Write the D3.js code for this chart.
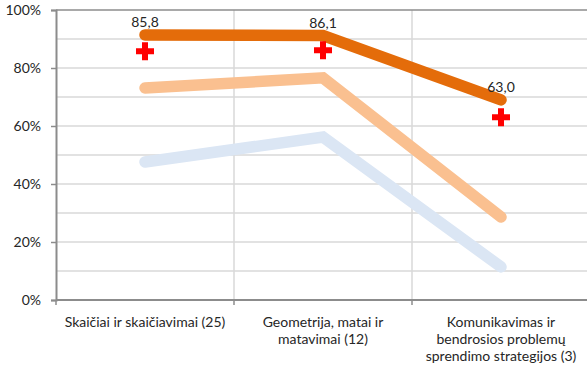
<!DOCTYPE html>
<html>
<head>
<meta charset="utf-8">
<script src="https://cdn.jsdelivr.net/npm/d3@7"></script>
<style>
  html, body { margin: 0; padding: 0; background: #fff; }
  svg { display: block; }
  text { font-family: Lato, "Open Sans", sans-serif; fill: #262626; }
</style>
</head>
<body>
<svg id="chart" width="587" height="367"></svg>
<script>
// Categories (multi-line axis labels)
const categories = [
  ["Skaičiai ir skaičiavimai (25)"],
  ["Geometrija, matai ir", "matavimai (12)"],
  ["Komunikavimas ir", "bendrosios problemų", "sprendimo strategijos (3)"]
];
const categoryKeys = ["skaiciai", "geometrija", "komunikavimas"];

// Series values, %
const seriesHigh = [91.4, 91.2, 69.0];
const seriesMid = [73.1, 76.6, 28.6];
const seriesLow = [47.6, 56.2, 11.4];
// Marked results with value labels
const markedValues = [85.8, 86.1, 63.0];
const markedLabels = ["85,8", "86,1", "63,0"];

const yTicks = [0, 20, 40, 60, 80, 100];
const yGrid = d3.range(0, 101, 10);

const svg = d3.select("#chart");
const plot = { left: 56, right: 590, top: 10, bottom: 300 };
const fontSize = 14;

const x = d3.scaleBand().domain(categoryKeys).range([plot.left, plot.right]);
const y = d3.scaleLinear().domain([0, 100]).range([plot.bottom, plot.top]);
const cx = k => x(k) + x.bandwidth() / 2;

// Horizontal gridlines
svg.append("g").selectAll("line").data(yGrid.filter(v => v > 0 && v < 100)).join("line")
  .attr("x1", plot.left).attr("x2", plot.right)
  .attr("y1", d => y(d)).attr("y2", d => y(d))
  .attr("stroke", "#d9d9d9").attr("stroke-width", 1.5);

// Vertical gridlines between categories
svg.append("g").selectAll("line").data(categoryKeys.slice(1)).join("line")
  .attr("x1", d => x(d)).attr("x2", d => x(d))
  .attr("y1", plot.top).attr("y2", plot.bottom)
  .attr("stroke", "#d9d9d9").attr("stroke-width", 1.5);

// Top border
svg.append("line").attr("x1", plot.left).attr("x2", plot.right)
  .attr("y1", y(100)).attr("y2", y(100))
  .attr("stroke", "#8c8c8c").attr("stroke-width", 1.5);

// Y axis
const yAxis = d3.axisLeft(y).tickValues(yTicks).tickSize(5).tickPadding(10)
  .tickFormat(d => d + "%");
const gy = svg.append("g").attr("transform", `translate(${plot.left},0)`).call(yAxis);
gy.select(".domain").attr("stroke", "#8c8c8c").attr("stroke-width", 2);
gy.selectAll(".tick line").attr("stroke", "#8c8c8c").attr("stroke-width", 1.5);
gy.selectAll(".tick text").attr("font-size", fontSize).attr("fill", "#262626")
  .style("font-family", "Lato, sans-serif");

// X axis (ticks at category boundaries)
const gx = svg.append("g").attr("transform", `translate(0,${plot.bottom})`);
gx.append("line").attr("x1", plot.left).attr("x2", plot.right).attr("y1", 0).attr("y2", 0)
  .attr("stroke", "#8c8c8c").attr("stroke-width", 2);
gx.selectAll("line.tk").data(categoryKeys).join("line").attr("class", "tk")
  .attr("x1", d => x(d)).attr("x2", d => x(d)).attr("y1", 0).attr("y2", 5)
  .attr("stroke", "#8c8c8c").attr("stroke-width", 1.5);
const catLabels = gx.selectAll("text").data(categoryKeys).join("text")
  .attr("x", d => cx(d)).attr("text-anchor", "middle").attr("font-size", fontSize);
catLabels.each(function(d, i) {
  d3.select(this).selectAll("tspan").data(categories[i]).join("tspan")
    .attr("x", cx(d)).attr("y", (t, j) => 27 + j * 17).text(t => t);
});

// Lines
const line = d3.line().x((v, i) => cx(categoryKeys[i])).y(v => y(v));
const series = [
  { values: seriesLow, color: "#dbe6f4" },
  { values: seriesMid, color: "#fac090" },
  { values: seriesHigh, color: "#e46c0a" }
];
svg.append("g").selectAll("path").data(series).join("path")
  .attr("d", d => line(d.values))
  .attr("fill", "none").attr("stroke", d => d.color)
  .attr("stroke-width", 11.5)
  .attr("stroke-linecap", "round").attr("stroke-linejoin", "miter");

// Red cross markers
const crossSymbol = d3.symbol().type(d3.symbolCross).size(180);
svg.append("g").selectAll("path").data(markedValues).join("path")
  .attr("transform", (v, i) => `translate(${cx(categoryKeys[i])},${y(v)})`)
  .attr("d", crossSymbol).attr("fill", "#ff0000");

// Value labels above the high series
svg.append("g").selectAll("text").data(markedLabels).join("text")
  .attr("x", (t, i) => cx(categoryKeys[i]))
  .attr("y", (t, i) => y(seriesHigh[i]) - 8)
  .attr("text-anchor", "middle").attr("font-size", fontSize).text(t => t);
</script>
</body>
</html>
